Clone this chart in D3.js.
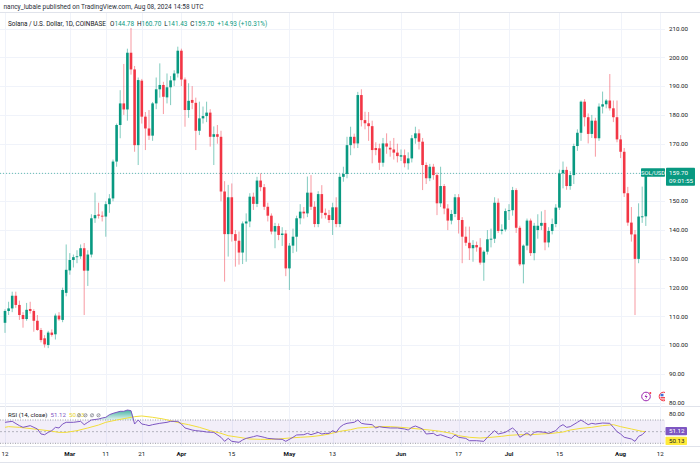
<!DOCTYPE html>
<html>
<head>
<meta charset="utf-8">
<script src="https://cdn.jsdelivr.net/npm/d3@7"></script>
<style>
  body { margin: 0; background: #fff; }
  svg { display: block; font-family: Roboto, "Liberation Sans", sans-serif; }
</style>
</head>
<body>
<svg id="chart" width="700" height="466"></svg>
<script>
// daily candles, Feb 12 .. Aug 8 2024 (SOL/USD, Coinbase)
const firstDay = "2024-02-12";
const opens = [
  107.8, 111.9, 112.8, 117.2, 114.0, 110.5, 109.1, 112.6, 111.9, 108.5, 105.3, 102.4, 100.1, 104.4, 103.8, 110.3, 108.8, 118.2,
  126.0, 129.6, 130.6, 130.9, 133.7, 125.9, 131.5, 144.1, 145.4, 145.0, 144.7, 149.0, 151.0, 163.8, 176.5, 184.0, 181.9, 201.6, 195.8, 169.5, 191.9, 179.4, 175.3, 172.8, 184.0, 188.9, 190.4, 186.1, 189.6, 192.0, 194.4,
  202.3, 192.3, 181.7, 185.2, 184.2, 174.5, 178.8, 179.6, 180.8, 172.4, 173.3, 172.4, 153.4, 138.6, 151.4, 138.6, 136.3, 132.2, 142.3, 143.0, 151.6, 149.1, 157.2, 154.9, 148.1, 145.0, 139.5, 141.4, 138.3, 138.8,
  126.7, 134.6, 137.7, 144.1, 146.4, 145.8, 153.0, 148.1, 142.1, 152.5, 146.0, 145.2, 143.5, 147.9, 142.1, 158.5, 159.5, 169.5, 172.4, 170.1, 186.9, 178.2, 177.1, 176.1, 168.5, 168.4, 163.4, 170.1, 168.6, 168.0, 166.9,
  165.5, 166.0, 163.2, 164.9, 171.9, 173.6, 170.7, 162.6, 158.0, 162.0, 159.1, 149.3, 155.3, 147.5, 143.3, 145.6, 151.4, 143.5, 137.7, 135.6, 133.7, 134.8, 134.0, 128.7, 132.5, 136.8, 137.0, 149.5, 139.7, 140.2,
  146.6, 146.9, 153.9, 140.8, 128.1, 134.6, 143.3, 132.0, 140.0, 141.5, 142.5, 135.7, 139.7, 142.1, 147.8, 159.7, 160.9, 155.3, 159.1, 169.2, 173.8, 184.6, 179.2, 173.4, 178.0, 171.9, 182.9, 183.7, 185.0, 182.3, 179.2,
  171.5, 167.2, 152.8, 142.6, 138.5, 130.0, 144.5, 144.78
];
const highs = [
  112.5, 115.1, 118.6, 118.6, 115.5, 111.5, 114.7, 115.1, 112.5, 110.5, 106.0, 103.5, 105.0, 105.5, 111.0, 111.5, 120.0, 135.0,
  132.0, 131.5, 133.0, 135.0, 135.5, 133.0, 145.5, 153.0, 149.5, 146.5, 150.0, 152.5, 164.5, 177.0, 188.6, 197.7, 203.0, 210.2, 197.0, 193.0, 192.5, 181.0, 181.7, 184.5, 193.0, 197.9, 191.5, 194.4, 193.5, 195.5, 203.7,
  203.0, 193.0, 191.0, 190.0, 186.0, 184.6, 182.9, 184.6, 182.0, 176.0, 176.5, 174.5, 157.0, 155.7, 156.2, 140.0, 139.5, 143.0, 145.8, 152.8, 153.0, 158.5, 159.7, 156.0, 149.5, 145.8, 142.5, 142.3, 141.0, 140.0,
  135.5, 140.5, 145.0, 149.0, 148.0, 158.6, 159.1, 150.0, 153.5, 155.6, 147.5, 147.0, 149.5, 151.4, 159.5, 162.0, 172.4, 175.9, 173.5, 188.0, 188.9, 181.1, 181.0, 178.0, 170.5, 170.0, 172.0, 173.6, 171.0, 172.0, 170.0,
  168.0, 168.0, 167.0, 173.0, 175.9, 175.0, 172.0, 163.5, 163.0, 163.0, 160.0, 162.0, 156.0, 149.0, 147.0, 152.5, 152.5, 144.5, 141.2, 141.2, 136.5, 136.0, 137.2, 133.0, 140.0, 140.5, 151.4, 151.0, 142.0, 147.5,
  149.0, 155.0, 154.5, 141.5, 135.0, 144.0, 144.0, 142.5, 145.5, 146.5, 147.0, 141.0, 144.0, 149.0, 161.0, 163.8, 162.0, 160.5, 170.0, 175.0, 185.0, 185.5, 180.5, 180.0, 179.0, 184.0, 188.1, 185.5, 194.2, 185.0, 185.0,
  173.0, 168.5, 155.0, 148.0, 140.0, 149.3, 155.1, 160.7
];
const lows = [
  104.3, 110.5, 111.5, 113.0, 108.8, 106.1, 108.5, 111.0, 104.7, 105.0, 101.0, 99.2, 99.0, 103.0, 102.0, 108.5, 108.0, 117.0,
  124.5, 127.0, 128.5, 130.0, 110.5, 120.6, 130.5, 142.5, 144.0, 143.0, 137.7, 146.0, 150.0, 162.0, 171.9, 180.0, 178.0, 194.0, 167.2, 162.6, 177.0, 167.8, 171.3, 171.0, 182.0, 186.0, 180.3, 184.0, 183.4, 190.0, 193.0,
  190.0, 175.9, 179.0, 182.0, 167.8, 173.0, 177.0, 177.5, 169.0, 162.6, 170.0, 150.0, 122.1, 130.8, 136.0, 127.3, 128.0, 128.2, 129.0, 141.0, 147.0, 148.0, 153.5, 147.0, 143.0, 138.5, 133.7, 136.5, 134.5, 124.0,
  119.2, 132.0, 132.5, 142.0, 144.0, 144.5, 147.0, 141.0, 141.0, 144.0, 144.0, 142.5, 138.3, 141.0, 141.0, 156.8, 158.0, 166.0, 168.4, 168.5, 176.0, 175.0, 171.0, 163.2, 166.0, 160.9, 162.0, 166.5, 165.5, 164.5, 163.5,
  164.0, 161.8, 161.0, 163.5, 170.0, 168.0, 153.9, 156.0, 157.0, 157.5, 145.2, 148.0, 145.5, 140.0, 142.0, 144.5, 138.8, 128.5, 134.5, 129.6, 129.0, 132.5, 128.0, 122.4, 131.5, 134.0, 135.5, 139.0, 138.5, 139.5,
  143.5, 145.0, 139.0, 127.5, 121.5, 133.0, 131.0, 129.5, 137.0, 140.0, 133.0, 134.0, 138.5, 141.0, 147.0, 154.5, 154.0, 154.0, 156.0, 167.5, 171.0, 176.0, 170.1, 172.0, 165.5, 171.0, 180.5, 182.3, 181.5, 177.5, 170.5,
  165.0, 151.5, 141.5, 136.0, 110.5, 128.5, 142.5, 141.43
];
const closes = [
  111.9, 112.8, 117.2, 114.0, 110.5, 109.1, 112.3, 111.9, 108.5, 105.3, 101.8, 100.3, 104.4, 103.6, 110.3, 109.0, 119.2, 126.2,
  129.6, 130.6, 130.9, 133.7, 125.9, 131.5, 144.1, 145.2, 145.0, 144.7, 149.0, 151.0, 163.8, 176.5, 184.0, 181.9, 201.6, 195.8, 169.5, 192.1, 179.4, 175.3, 172.8, 184.0, 188.9, 190.4, 186.3, 189.6, 192.0, 194.4, 202.3,
  192.3, 181.7, 184.9, 184.2, 174.5, 178.8, 179.6, 180.8, 172.4, 173.3, 172.4, 153.4, 138.6, 151.4, 138.6, 136.3, 132.2, 142.3, 143.0, 151.6, 149.1, 157.2, 154.9, 148.1, 145.0, 139.5, 141.4, 138.3, 138.8, 126.7,
  134.6, 137.7, 144.1, 146.4, 145.8, 153.0, 148.1, 142.1, 152.5, 146.0, 145.2, 143.5, 147.9, 142.1, 158.5, 159.5, 169.5, 172.4, 170.1, 186.9, 178.2, 177.1, 176.1, 167.8, 167.8, 163.4, 170.1, 169.0, 168.0, 166.9, 165.7,
  166.0, 163.2, 164.9, 171.9, 173.6, 170.7, 162.6, 158.0, 162.0, 159.1, 149.3, 155.3, 147.5, 143.3, 145.6, 151.4, 143.5, 137.7, 135.6, 133.7, 134.8, 134.0, 128.7, 132.5, 136.8, 137.0, 149.5, 139.7, 140.2, 146.6,
  146.9, 153.9, 140.8, 128.1, 134.6, 143.3, 132.0, 141.5, 141.5, 142.5, 135.7, 139.7, 142.1, 147.8, 159.7, 160.9, 155.3, 159.1, 169.2, 173.8, 184.6, 179.2, 173.4, 178.0, 171.9, 182.9, 183.7, 185.0, 182.3, 179.2, 171.5,
  167.2, 152.8, 142.6, 138.5, 130.0, 144.7, 144.77, 159.7
];

const rsiDates = ["02-12","02-14","02-16","02-17","02-19","02-21","02-22","02-23","02-24","02-25","02-26","02-27","02-28","02-29",
  "03-02","03-04","03-05","03-06","03-07","03-09","03-10","03-11","03-12","03-13","03-15","03-16","03-17","03-18","03-19","03-20","03-21","03-22","03-23","03-24","03-26","03-28","03-29","03-31",
  "04-01","04-02","04-04","04-05","04-07","04-08","04-10","04-12","04-13","04-14","04-15","04-17","04-18","04-19","04-21","04-22","04-24","04-25","04-27","04-29","04-30",
  "05-02","05-03","05-05","05-06","05-07","05-09","05-10","05-11","05-12","05-13","05-14","05-15","05-16","05-17","05-19","05-20","05-21","05-22","05-24","05-25","05-26","05-27","05-29","05-31",
  "06-02","06-03","06-04","06-05","06-07","06-08","06-10","06-11","06-12","06-14","06-15","06-16","06-17","06-19","06-20","06-22","06-24","06-25","06-26","06-27","06-28","06-30",
  "07-01","07-02","07-03","07-04","07-05","07-06","07-07","07-08","07-09","07-11","07-12","07-14","07-15","07-16","07-17","07-18","07-20","07-21","07-22","07-23","07-24","07-25","07-27","07-29","07-30","07-31",
  "08-01","08-02","08-04","08-05","08-06","08-07","08-08"];
const rsiValues = [66.0, 67.7, 60.3, 57.4, 60.3, 54.6, 46.0, 44.8, 48.8, 51.7, 57.4, 56.3, 63.1, 66.0,
  66.0, 67.7, 62.0, 66.0, 70.0, 71.7, 73.4, 74.6, 79.1, 81.4, 84.9, 84.9, 87.1, 86.0, 63.1, 70.0, 63.1, 62.0, 60.3, 62.0, 64.3, 66.0, 67.7, 67.7,
  63.1, 56.3, 52.8, 51.7, 50.5, 49.4, 48.8, 40.3, 33.4, 38.5, 33.4, 31.7, 35.7, 38.5, 41.4, 43.1, 40.3, 38.5, 37.4, 36.8, 33.4,
  40.3, 44.3, 44.8, 47.1, 44.8, 48.8, 46.0, 47.1, 47.0, 51.7, 48.8, 57.4, 62.0, 64.3, 66.0, 70.0, 64.3, 63.1, 62.0, 56.3, 58.6, 57.4, 56.3, 56.3,
  54.6, 52.8, 57.4, 59.7, 54.6, 46.0, 47.1, 43.1, 44.8, 40.3, 38.5, 44.3, 40.3, 38.5, 34.5, 34.5, 33.4, 40.3, 46.0, 51.7, 46.0, 48.8,
  52.8, 56.3, 50.5, 40.3, 44.0, 48.0, 43.1, 48.8, 50.0, 48.8, 47.1, 51.7, 58.6, 62.0, 57.4, 58.6, 66.0, 70.0, 66.0, 62.0, 64.3, 63.1, 64.8, 64.3, 57.4, 50.0,
  46.0, 40.3, 37.4, 33.4, 42.0, 44.8, 51.12];
const maDates = ["02-12","02-13","02-16","02-20","02-24","02-27","02-29","03-03","03-06","03-09","03-11","03-14","03-17","03-19","03-21","03-24","03-27","03-29",
  "04-01","04-03","04-06","04-09","04-12","04-14","04-17","04-20","04-23","04-26","04-28","05-01","05-04","05-07","05-10","05-12","05-15","05-18","05-20","05-23","05-26","05-29",
  "06-01","06-03","06-06","06-09","06-12","06-15","06-17","06-20","06-23","06-26","06-29","07-01","07-04","07-07","07-10","07-13","07-16","07-18","07-21","07-24","07-27","07-30",
  "08-01","08-04","08-07","08-08"];
const maValues = [57.4, 58.6, 57.4, 54.6, 51.7, 48.8, 48.8, 51.7, 56.3, 61.4, 66.0, 70.0, 73.4, 75.7, 76.9, 74.6, 71.7, 68.8,
  64.3, 62.0, 57.4, 51.7, 47.1, 43.1, 40.3, 37.4, 36.8, 36.8, 37.4, 39.1, 40.3, 41.4, 43.7, 46.0, 50.5, 53.4, 56.3, 57.4, 58.6, 58.6,
  57.4, 56.3, 54.6, 52.8, 50.5, 47.1, 43.1, 40.3, 39.1, 40.3, 42.0, 43.7, 44.8, 44.8, 46.0, 47.1, 49.4, 52.8, 55.7, 57.4, 60.3, 62.0,
  58.6, 54.6, 50.5, 50.13];

const priceTicks = [80, 90, 100, 110, 120, 130, 140, 150, 160, 170, 180, 190, 200, 210];
const timeTicks = ["2024-02-12", "2024-03-01", "2024-03-11", "2024-03-21", "2024-04-01", "2024-04-15", "2024-05-01",
  "2024-05-13", "2024-06-01", "2024-06-17", "2024-07-01", "2024-07-15", "2024-08-01", "2024-08-12"];
const timeTickLabels = ["12", "Mar", "11", "21", "Apr", "15", "May", "13", "Jun", "17", "Jul", "15", "Aug", "12"];

const up = "#089981", down = "#F23645", purple = "#7E57C2", yellow = "#F2DE3A";
const grid = "#F0F3FA", textCol = "#131722";

const plotRight = 665;
const mainTop = 13, mainBottom = 406, rsiBottom = 446;

const parse = d3.utcParse("%Y-%m-%d");
const day0 = parse(firstDay);
const candles = closes.map((c, i) => ({
  date: d3.utcDay.offset(day0, i),
  o: opens[i], h: highs[i], l: lows[i], c: c
}));
const rsi = rsiDates.map((d, i) => ({ date: parse("2024-" + d), v: rsiValues[i] }));
const ma = maDates.map((d, i) => ({ date: parse("2024-" + d), v: maValues[i] }));

const x = d3.scaleUtc()
  .domain([day0, parse("2024-08-12")])
  .range([5, 5 + 182 * 3.6]);
const y = d3.scaleLinear().domain([78.9, 215.4]).range([mainBottom, mainTop]);
const ry = d3.scaleLinear().domain([25.4, 94]).range([rsiBottom, mainBottom]);

const svg = d3.select("#chart");

svg.append("rect").attr("width", 700).attr("height", 466).attr("fill", "#fff");

const defs = svg.append("defs");
defs.append("clipPath").attr("id", "plotClip")
  .append("rect").attr("x", 0).attr("y", mainTop).attr("width", plotRight).attr("height", rsiBottom - mainTop);
const grad = defs.append("linearGradient").attr("id", "obGrad")
  .attr("x1", 0).attr("y1", 0).attr("x2", 0).attr("y2", 1);
grad.append("stop").attr("offset", "0%").attr("stop-color", up).attr("stop-opacity", 0.75);
grad.append("stop").attr("offset", "100%").attr("stop-color", up).attr("stop-opacity", 0.1);

// frame lines
svg.append("line").attr("x1", 0).attr("x2", 700).attr("y1", 12.5).attr("y2", 12.5).attr("stroke", "#E0E3EB");
svg.append("line").attr("x1", 0).attr("x2", 700).attr("y1", mainBottom + 0.5).attr("y2", mainBottom + 0.5).attr("stroke", "#E0E3EB");
svg.append("line").attr("x1", 0).attr("x2", 700).attr("y1", rsiBottom + 0.5).attr("y2", rsiBottom + 0.5).attr("stroke", "#E0E3EB");
svg.append("line").attr("x1", 0).attr("x2", 700).attr("y1", 462.5).attr("y2", 462.5).attr("stroke", "#E0E3EB");

const plot = svg.append("g").attr("clip-path", "url(#plotClip)");

// grid
plot.append("g")
  .selectAll("line")
  .data(priceTicks)
  .join("line")
  .attr("x1", 0).attr("x2", plotRight)
  .attr("y1", (d) => Math.round(y(d)) + 0.5).attr("y2", (d) => Math.round(y(d)) + 0.5)
  .attr("stroke", grid);
plot.append("g")
  .selectAll("line")
  .data(timeTicks)
  .join("line")
  .attr("x1", (d) => Math.round(x(parse(d))) + 0.5).attr("x2", (d) => Math.round(x(parse(d))) + 0.5)
  .attr("y1", mainTop).attr("y2", rsiBottom)
  .attr("stroke", grid);

// last price line
const last = candles[candles.length - 1];
plot.append("line")
  .attr("x1", 0).attr("x2", plotRight)
  .attr("y1", y(last.c)).attr("y2", y(last.c))
  .attr("stroke", up).attr("stroke-opacity", 0.6)
  .attr("stroke-dasharray", "1,2");

// candles
const bw = 2.6;
const candle = plot.append("g")
  .selectAll("g")
  .data(candles)
  .join("g")
  .attr("transform", (d) => `translate(${x(d.date)},0)`);
candle.append("line")
  .attr("y1", (d) => y(d.h)).attr("y2", (d) => y(d.l))
  .attr("stroke", (d) => (d.c >= d.o ? up : down))
  .attr("stroke-opacity", 0.5)
  .attr("stroke-width", 1);
candle.append("rect")
  .attr("x", -bw / 2)
  .attr("width", bw)
  .attr("y", (d) => y(Math.max(d.o, d.c)))
  .attr("height", (d) => Math.max(0.9, Math.abs(y(d.o) - y(d.c))))
  .attr("fill", (d) => (d.c >= d.o ? up : down));

// RSI pane
plot.append("rect")
  .attr("x", 0).attr("width", plotRight)
  .attr("y", ry(70)).attr("height", ry(30) - ry(70))
  .attr("fill", purple).attr("fill-opacity", 0.1);
[70, 50, 30].forEach((lv) => {
  plot.append("line")
    .attr("x1", 0).attr("x2", plotRight)
    .attr("y1", ry(lv)).attr("y2", ry(lv))
    .attr("stroke", "#787B86").attr("stroke-opacity", lv === 50 ? 0.5 : 0.7)
    .attr("stroke-dasharray", lv === 50 ? "2,2" : "1,1.5");
});
plot.append("path")
  .datum(rsi)
  .attr("fill", "url(#obGrad)")
  .attr("d", d3.area()
    .x((d) => x(d.date))
    .y0(ry(70))
    .y1((d) => ry(Math.max(70, d.v))));
plot.append("path")
  .datum(ma)
  .attr("fill", "none")
  .attr("stroke", yellow)
  .attr("stroke-width", 1)
  .attr("d", d3.line().x((d) => x(d.date)).y((d) => ry(d.v)));
plot.append("path")
  .datum(rsi)
  .attr("fill", "none")
  .attr("stroke", purple)
  .attr("stroke-width", 1)
  .attr("d", d3.line().x((d) => x(d.date)).y((d) => ry(d.v)));

// event icons at bottom right of the price pane
plot.append("circle").attr("cx", 646).attr("cy", 396.5).attr("r", 4.3)
  .attr("fill", "#fff").attr("stroke", "#9C27B0").attr("stroke-width", 1);
plot.append("path").attr("d", "M646.8,393.3 L644.6,397 L646.3,397 L645.4,399.8 L647.6,396 L645.9,396 Z")
  .attr("fill", "#9C27B0");
plot.append("circle").attr("cx", 650.3).attr("cy", 393).attr("r", 1).attr("fill", down);
plot.append("circle").attr("cx", 663.5).attr("cy", 396.5).attr("r", 4.3)
  .attr("fill", "#fff").attr("stroke", down).attr("stroke-width", 1);
plot.append("rect").attr("x", 660.5).attr("y", 393.8).attr("width", 3).attr("height", 2.5).attr("fill", "#3F6FD8");
plot.append("rect").attr("x", 660.5).attr("y", 397).attr("width", 6).attr("height", 0.9).attr("fill", down);
plot.append("rect").attr("x", 660.5).attr("y", 398.6).attr("width", 6).attr("height", 0.9).attr("fill", down);

// price axis
svg.append("g")
  .selectAll("text")
  .data(priceTicks.filter((p) => p !== 160))
  .join("text")
  .attr("x", 669)
  .attr("y", (d) => y(d))
  .attr("dy", "0.35em")
  .attr("font-size", 6.2)
  .attr("fill", textCol)
  .text((d) => d3.format(".2f")(d));
svg.append("text").attr("x", 669).attr("y", ry(80)).attr("dy", "0.35em")
  .attr("font-size", 6.2).attr("fill", textCol).text("80.00");

// last price tags
svg.append("rect").attr("x", 641).attr("y", 168.3).attr("width", 24).attr("height", 8.4).attr("rx", 0.8).attr("fill", up);
svg.append("text").attr("x", 653).attr("y", 172.6).attr("dy", "0.35em").attr("text-anchor", "middle")
  .attr("font-size", 5.8).attr("fill", "#fff").text("SOL/USD");
svg.append("rect").attr("x", 666).attr("y", 167.7).attr("width", 29).attr("height", 18).attr("rx", 0.8).attr("fill", up);
svg.append("text").attr("x", 669).attr("y", 172.6).attr("dy", "0.35em")
  .attr("font-size", 6.2).attr("fill", "#fff").text(d3.format(".2f")(last.c));
svg.append("text").attr("x", 669).attr("y", 181).attr("dy", "0.35em")
  .attr("font-size", 6.2).attr("fill", "#fff").text("09:01:55");

// RSI value tags
svg.append("rect").attr("x", 665.5).attr("y", 427).attr("width", 21.5).attr("height", 8.3).attr("rx", 0.8).attr("fill", purple);
svg.append("text").attr("x", 669).attr("y", 431.2).attr("dy", "0.35em")
  .attr("font-size", 6.2).attr("fill", "#fff").text(d3.format(".2f")(rsiValues[rsiValues.length - 1]));
svg.append("rect").attr("x", 665.5).attr("y", 436.8).attr("width", 21.5).attr("height", 8.3).attr("rx", 0.8).attr("fill", "#FFEB3B");
svg.append("text").attr("x", 669).attr("y", 441).attr("dy", "0.35em")
  .attr("font-size", 6.2).attr("fill", textCol).text(d3.format(".2f")(maValues[maValues.length - 1]));

// time axis
svg.append("g")
  .selectAll("text")
  .data(timeTicks)
  .join("text")
  .attr("x", (d) => x(parse(d)))
  .attr("y", 454)
  .attr("dy", "0.35em")
  .attr("text-anchor", "middle")
  .attr("font-size", 6.2)
  .attr("font-weight", (d, i) => (/^[A-Z]/.test(timeTickLabels[i]) ? "bold" : "normal"))
  .attr("fill", textCol)
  .text((d, i) => timeTickLabels[i]);

// header
svg.append("text").attr("x", 3.5).attr("y", 6.5).attr("dy", "0.35em")
  .attr("font-size", 6.5).attr("fill", "#2A2E39")
  .text("nancy_lubale published on TradingView.com, Aug 08, 2024 14:58 UTC");

const legend = svg.append("text").attr("x", 8).attr("y", 24).attr("dy", "0.35em")
  .attr("font-size", 6.4).attr("fill", textCol);
legend.append("tspan").text("Solana / U.S. Dollar, 1D, COINBASE");
[["O", last.o], ["H", last.h], ["L", last.l], ["C", last.c]].forEach(([k, v], i) => {
  legend.append("tspan").attr("dx", i === 0 ? 4 : 3).text(k);
  legend.append("tspan").attr("fill", up).text(d3.format(".2f")(v));
});
const prev = candles[candles.length - 2].c;
const chg = last.c - prev;
legend.append("tspan").attr("dx", 3).attr("fill", up)
  .text(`+${d3.format(".2f")(chg)} (+${d3.format(".2f")(chg / prev * 100)}%)`);

// RSI legend
const rsiLegend = svg.append("text").attr("x", 8).attr("y", 415).attr("dy", "0.35em")
  .attr("font-size", 6.2).attr("fill", textCol);
rsiLegend.append("tspan").text("RSI (14, close)");
rsiLegend.append("tspan").attr("dx", 3).attr("fill", purple).text(d3.format(".2f")(rsiValues[rsiValues.length - 1]));
rsiLegend.append("tspan").attr("dx", 3).attr("fill", "#E8D530").text(d3.format(".2f")(maValues[maValues.length - 1]));
[79, 85.5, 92, 98.5].forEach((cx) => {
  svg.append("circle").attr("cx", cx).attr("cy", 415.3).attr("r", 1.6)
    .attr("fill", "none").attr("stroke", "#787B86").attr("stroke-width", 0.7);
  svg.append("line").attr("x1", cx - 1.3).attr("x2", cx + 1.3).attr("y1", 416.6).attr("y2", 414)
    .attr("stroke", "#787B86").attr("stroke-width", 0.6);
});
</script>
</body>
</html>
